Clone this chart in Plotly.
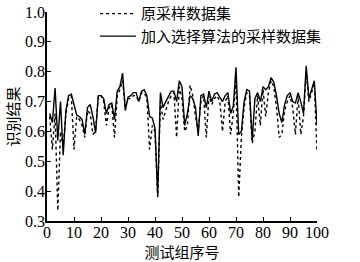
import plotly.graph_objects as go

x_idx = list(range(1, 101))
orig = [0.65, 0.54, 0.66, 0.335, 0.60, 0.55, 0.66, 0.71, 0.72, 0.54,
        0.65, 0.64, 0.62, 0.58, 0.67, 0.66, 0.59, 0.60, 0.72, 0.72,
        0.70, 0.62, 0.68, 0.69, 0.58, 0.72, 0.74, 0.77, 0.68, 0.71,
        0.71, 0.72, 0.72, 0.70, 0.73, 0.73, 0.71, 0.54, 0.62, 0.60,
        0.38, 0.70, 0.64, 0.67, 0.70, 0.72, 0.73, 0.58, 0.75, 0.71,
        0.60, 0.62, 0.755, 0.72, 0.65, 0.60, 0.70, 0.72, 0.58, 0.72,
        0.69, 0.71, 0.72, 0.70, 0.60, 0.70, 0.72, 0.59, 0.66, 0.78,
        0.38, 0.58, 0.68, 0.73, 0.72, 0.56, 0.60, 0.72, 0.62, 0.74,
        0.65, 0.73, 0.77, 0.75, 0.68, 0.58, 0.59, 0.67, 0.70, 0.72,
        0.68, 0.59, 0.72, 0.59, 0.65, 0.80, 0.70, 0.73, 0.76, 0.53]
selected = [0.66, 0.63, 0.745, 0.57, 0.70, 0.52, 0.67, 0.72, 0.725, 0.69,
            0.655, 0.65, 0.64, 0.59, 0.68, 0.69, 0.65, 0.595, 0.72, 0.72,
            0.71, 0.66, 0.69, 0.695, 0.64, 0.735, 0.75, 0.795, 0.67, 0.715,
            0.72, 0.73, 0.73, 0.70, 0.735, 0.74, 0.72, 0.65, 0.645, 0.61,
            0.385, 0.73, 0.68, 0.70, 0.72, 0.735, 0.735, 0.70, 0.77, 0.75,
            0.62, 0.66, 0.72, 0.71, 0.68, 0.585, 0.72, 0.725, 0.68, 0.735,
            0.70, 0.725, 0.73, 0.715, 0.70, 0.72, 0.73, 0.66, 0.685, 0.815,
            0.59, 0.60, 0.70, 0.74, 0.735, 0.57, 0.71, 0.73, 0.70, 0.75,
            0.74, 0.75, 0.78, 0.765, 0.72, 0.66, 0.63, 0.69, 0.72, 0.73,
            0.70, 0.695, 0.73, 0.70, 0.66, 0.82, 0.71, 0.74, 0.77, 0.62]

name_orig = "原采样数据集"
name_sel = "加入选择算法的采样数据集"
x_title = "测试组序号"
y_title = "识别结果"

num_font = "Liberation Serif, Times New Roman, serif"
cjk_font = "Noto Sans CJK SC"

fig = go.Figure()
fig.add_trace(go.Scatter(x=x_idx, y=orig, mode="lines", name=name_orig,
                         line=dict(color="black", width=1.4, dash="dot")))
fig.add_trace(go.Scatter(x=x_idx, y=selected, mode="lines", name=name_sel,
                         line=dict(color="black", width=1.4)))

axis_common = dict(showgrid=False, zeroline=False, showline=True, linecolor="black",
                   linewidth=1.5, ticks="inside", ticklen=4, tickcolor="black",
                   tickwidth=1.2, mirror=False, automargin=False,
                   ticklabeloverflow="allow",
                   tickfont=dict(family=num_font, size=16, color="black"))

fig.update_xaxes(range=[0, 100], tickvals=list(range(0, 101, 10)),
                 ticklabelstandoff=-4,
                 title=dict(text=x_title, font=dict(family=cjk_font, size=15, color="black"), standoff=3),
                 **axis_common)
fig.update_yaxes(range=[0.3, 1.0], tickvals=[0.3, 0.4, 0.5, 0.6, 0.7, 0.8, 0.9, 1.0],
                 tickformat=".1f", ticklabelstandoff=-3,
                 title=dict(text=y_title, font=dict(family=cjk_font, size=15, color="black"), standoff=2),
                 **axis_common)

fig.update_layout(
    width=360, height=262,
    margin=dict(l=47, r=43, t=12, b=41, autoexpand=False),
    paper_bgcolor="white", plot_bgcolor="white",
    showlegend=True,
    legend=dict(x=0.178, y=1.07, xanchor="left", yanchor="top",
                bgcolor="rgba(0,0,0,0)", borderwidth=0,
                font=dict(family=cjk_font, size=15, color="black"),
                tracegroupgap=0, itemwidth=36),
)

# remove the default page margin so the 360x262 figure fills the window
fig.write_html("out.html", config={"displayModeBar": False},
               post_script="document.body.style.margin='0';")
